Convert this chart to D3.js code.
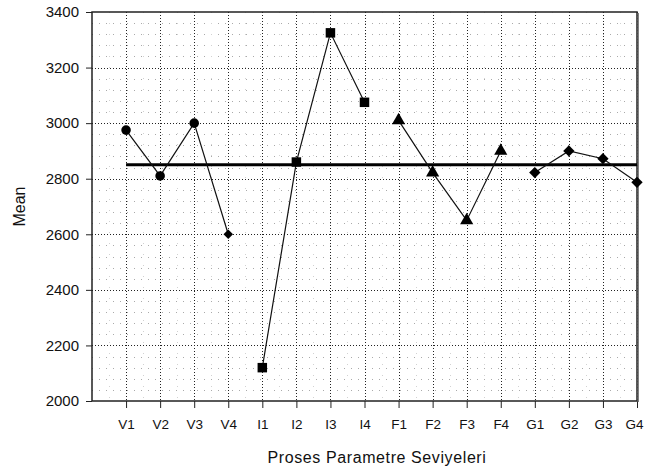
<!DOCTYPE html>
<html lang="en">
<head>
    <meta charset="UTF-8">
    <title>Mean</title>
    <script src="https://cdn.jsdelivr.net/npm/d3@7/dist/d3.min.js"></script>
    <style>
        body { margin: 0; background: #fff; }
        text { font-family: "Liberation Sans", Arial, sans-serif; fill: #111; }
    </style>
</head>
<body>
<div id="chart"></div>

<script>
    const width = 645;
    const height = 472;

    // data
    const categories = ["V1", "V2", "V3", "V4", "I1", "I2", "I3", "I4",
        "F1", "F2", "F3", "F4", "G1", "G2", "G3", "G4"];
    const vValues = [2975, 2810, 3000, 2600];
    const iValues = [2120, 2860, 3325, 3075];
    const fValues = [3010, 2822, 2650, 2900];
    const gValues = [2822, 2900, 2872, 2787];
    const grandMean = 2850;
    const yTicks = [2000, 2200, 2400, 2600, 2800, 3000, 3200, 3400];

    const groups = [
        {values: vValues, shapes: ["circle", "circle", "circle", "smallDiamond"], offset: 0},
        {values: iValues, shapes: ["square", "square", "square", "square"], offset: 4},
        {values: fValues, shapes: ["triangle", "triangle", "triangle", "triangle"], offset: 8},
        {values: gValues, shapes: ["diamond", "diamond", "diamond", "diamond"], offset: 12}
    ];

    const plotLeft = 92, plotRight = 637, plotTop = 12, plotBottom = 401;

    const x = d3.scaleLinear().domain([0, categories.length]).range([plotLeft, plotRight]);
    const y = d3.scaleLinear().domain([2000, 3400]).range([plotBottom, plotTop]);

    const svg = d3.select("#chart")
        .append("svg")
        .attr("width", width)
        .attr("height", height);

    const grid = svg.append("g");

    // minor horizontal grid, every 40
    const minorY = d3.range(2040, 3400, 40).filter(function (v) { return v % 200 !== 0; });
    grid.selectAll("line.minor-y").data(minorY).enter()
        .append("line")
        .attr("class", "minor-y")
        .attr("x1", plotLeft).attr("x2", plotRight)
        .attr("y1", function (d) { return Math.round(y(d)) + 0.5; })
        .attr("y2", function (d) { return Math.round(y(d)) + 0.5; })
        .attr("stroke", "#aaa")
        .attr("stroke-dasharray", "1,6");

    // minor vertical grid, half way between categories
    const minorX = d3.range(0, categories.length).map(function (i) { return i + 0.5; });
    grid.selectAll("line.minor-x").data(minorX).enter()
        .append("line")
        .attr("class", "minor-x")
        .attr("y1", plotTop).attr("y2", plotBottom)
        .attr("x1", function (d) { return Math.round(x(d)) + 0.5; })
        .attr("x2", function (d) { return Math.round(x(d)) + 0.5; })
        .attr("stroke", "#d2d2d2")
        .attr("stroke-dasharray", "1,10");

    // major grid
    grid.selectAll("line.major-y").data(yTicks.slice(1, -1)).enter()
        .append("line")
        .attr("class", "major-y")
        .attr("x1", plotLeft).attr("x2", plotRight)
        .attr("y1", function (d) { return Math.round(y(d)) + 0.5; })
        .attr("y2", function (d) { return Math.round(y(d)) + 0.5; })
        .attr("stroke", "#222")
        .attr("stroke-dasharray", "1,2");

    grid.selectAll("line.major-x").data(categories).enter()
        .append("line")
        .attr("class", "major-x")
        .attr("y1", plotTop).attr("y2", plotBottom)
        .attr("x1", function (d, i) { return Math.round(x(i + 1)) + 0.5; })
        .attr("x2", function (d, i) { return Math.round(x(i + 1)) + 0.5; })
        .attr("stroke", "#222")
        .attr("stroke-dasharray", "1,2");

    // axes
    const yAxis = d3.axisLeft(y).tickValues(yTicks).tickSize(6).tickPadding(7).tickFormat(d3.format("d"));
    const xAxis = d3.axisBottom(x)
        .tickValues(d3.range(1, categories.length + 1))
        .tickSize(7).tickPadding(11)
        .tickFormat(function (d) { return categories[d - 1]; });

    const gy = svg.append("g").attr("transform", "translate(" + plotLeft + ",0)").call(yAxis);
    const gx = svg.append("g").attr("transform", "translate(0," + plotBottom + ")").call(xAxis);
    [gy, gx].forEach(function (g) {
        g.select(".domain").remove();
        g.selectAll(".tick line").attr("stroke", "#222");
        g.selectAll("text").attr("fill", "#111").style("font-family", "Liberation Sans, Arial, sans-serif");
    });
    gy.selectAll("text").style("font-size", "15px");
    gx.selectAll("text").style("font-size", "13.5px");
    // last label sits at the window edge, nudge it in
    gx.selectAll(".tick text").filter(function (d) { return d === categories.length; })
        .attr("dx", "-3");

    // frame
    svg.append("rect")
        .attr("x", plotLeft).attr("y", plotTop)
        .attr("width", plotRight - plotLeft).attr("height", plotBottom - plotTop)
        .attr("fill", "none")
        .attr("stroke", "#222")
        .attr("stroke-width", 1.5);
    svg.append("line")
        .attr("x1", plotRight + 1).attr("x2", plotRight + 1)
        .attr("y1", plotTop + 1).attr("y2", plotBottom + 1)
        .attr("stroke", "#555")
        .attr("stroke-width", 1.5);

    // grand mean line
    svg.append("line")
        .attr("x1", x(1)).attr("x2", plotRight)
        .attr("y1", y(grandMean)).attr("y2", y(grandMean))
        .attr("stroke", "#000")
        .attr("stroke-width", 3);

    // series lines
    const line = d3.line()
        .x(function (d) { return x(d.i); })
        .y(function (d) { return y(d.v); });

    const symbols = {
        circle: d3.symbol().type(d3.symbolCircle).size(72),
        square: d3.symbol().type(d3.symbolSquare).size(90),
        triangle: d3.symbol().type(d3.symbolTriangle).size(75),
        diamond: d3.symbol().type(d3.symbolSquare).size(64),
        smallDiamond: d3.symbol().type(d3.symbolSquare).size(45)
    };

    groups.forEach(function (g) {
        const pts = g.values.map(function (v, k) {
            return {i: g.offset + k + 1, v: v, shape: g.shapes[k]};
        });
        svg.append("path")
            .datum(pts)
            .attr("d", line)
            .attr("fill", "none")
            .attr("stroke", "#111")
            .attr("stroke-width", 1.2);

        svg.selectAll(null).data(pts).enter()
            .append("path")
            .attr("d", function (d) { return symbols[d.shape](); })
            .attr("transform", function (d) {
                const rot = (d.shape === "diamond" || d.shape === "smallDiamond") ? " rotate(45)" : "";
                return "translate(" + x(d.i) + "," + y(d.v) + ")" + rot;
            })
            .attr("fill", "#000");
    });

    // axis titles
    svg.append("text")
        .attr("transform", "translate(25," + ((plotTop + plotBottom) / 2) + ") rotate(-90)")
        .attr("text-anchor", "middle")
        .style("font-size", "16px")
        .text("Mean");

    svg.append("text")
        .attr("x", 377)
        .attr("y", 463)
        .attr("text-anchor", "middle")
        .style("font-size", "16px")
        .style("letter-spacing", "0.6px")
        .text("Proses Parametre Seviyeleri");
</script>

</body>
</html>
